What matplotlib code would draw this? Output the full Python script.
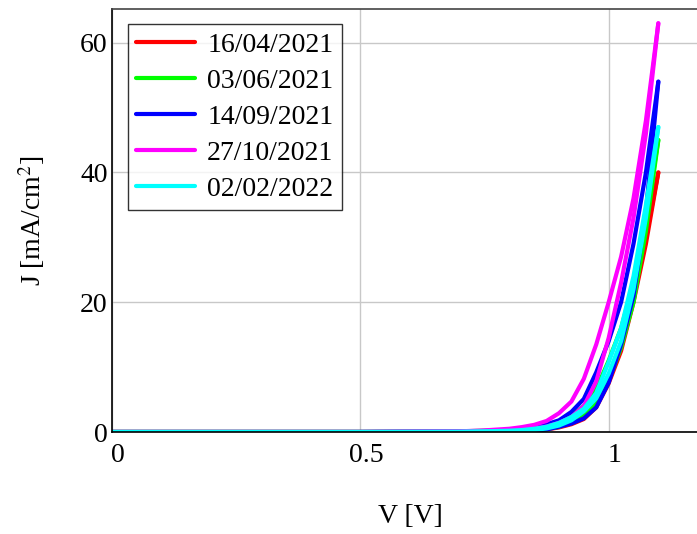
import numpy as np
import matplotlib
matplotlib.use("Agg")
import matplotlib.pyplot as plt
from matplotlib.transforms import ScaledTranslation

plt.rcParams['font.family'] = ['Liberation Serif', 'DejaVu Serif']
plt.rcParams['mathtext.fontset'] = 'stix'

# Voltage points (V)
V = [0, 0.5, 0.7, 0.75, 0.8, 0.825, 0.85, 0.875, 0.9, 0.925, 0.95, 0.975,
     1.0, 1.025, 1.05, 1.075, 1.1]

# Current density (mA/cm2), two sweeps per measurement date
dates = ['16/04/2021', '03/06/2021', '14/09/2021', '27/10/2021', '02/02/2022']
colors = ['#ff0000', '#00ff00', '#0000ff', '#ff00ff', '#00ffff']

J_red_a = [0, 0, 0, 0.03, 0.1, 0.2, 0.3, 0.55, 1.0, 1.6, 2.6, 4.6, 8.5, 13.5, 21, 30, 40]
J_red_b = [0, 0, 0, 0.02, 0.05, 0.1, 0.2, 0.4, 0.7, 1.2, 2.0, 3.8, 7.5, 12.5, 20, 29, 40]
J_green_a = [0, 0, 0.1, 0.2, 0.3, 0.45, 0.6, 0.95, 1.5, 2.5, 4.0, 6.6, 11, 16, 23, 33, 45]
J_green_b = [0, 0, 0, 0.02, 0.05, 0.1, 0.2, 0.45, 0.8, 1.4, 2.5, 4.4, 8, 13, 20, 31, 45]
J_blue_a = [0, 0, 0.08, 0.15, 0.3, 0.5, 0.8, 1.2, 1.8, 3.1, 5.1, 9.2, 14, 20, 29, 40, 54]
J_blue_b = [0, 0, 0, 0.02, 0.05, 0.1, 0.2, 0.4, 0.8, 1.3, 2.1, 3.8, 7.6, 13.5, 21, 34, 54]
J_mag_a = [0, 0, 0.1, 0.25, 0.5, 0.75, 1.1, 1.7, 2.9, 4.7, 8.2, 13.5, 20, 27, 36, 48, 63]
J_mag_b = [0, 0, 0.05, 0.1, 0.2, 0.3, 0.5, 0.85, 1.4, 2.3, 4.0, 7.8, 14.5, 23, 33, 46, 63]
J_cyan_a = [0, 0, 0.05, 0.1, 0.2, 0.3, 0.5, 0.8, 1.4, 2.3, 3.6, 6.0, 10.8, 16, 24, 35, 47]
J_cyan_b = [0, 0, 0, 0.05, 0.1, 0.2, 0.3, 0.55, 1.0, 1.8, 3.2, 5.2, 9, 14, 22, 33, 47]

sweeps = [(J_red_a, J_red_b), (J_green_a, J_green_b), (J_blue_a, J_blue_b),
          (J_mag_a, J_mag_b), (J_cyan_a, J_cyan_b)]

fig = plt.figure(figsize=(6.97, 5.34), dpi=100)
# axes runs past the right edge of the picture, as in the original
ax = fig.add_axes([112/697, 102/534, 596/697, 423/534])

for (ja, jb), c, lab in zip(sweeps, colors, dates):
    ax.plot(V, ja, color=c, lw=3, label=lab, solid_capstyle='round',
            solid_joinstyle='round')
    ax.plot(V, jb, color=c, lw=3, solid_capstyle='round',
            solid_joinstyle='round')

ax.set_xlim(0, 1.2)
ax.set_ylim(0, 65.2)
ax.set_xticks([0, 0.5, 1])
ax.set_xticklabels(['0', '0.5', '1'])
ax.set_yticks([0, 20, 40, 60])
ax.grid(True, color='#c8c8c8', lw=1)
ax.set_axisbelow(True)
ax.tick_params(length=0, labelsize=20)
ax.tick_params(axis='x', pad=8)
ax.tick_params(axis='y', pad=3)

# x tick labels sit a little to the right of their grid lines
shift = ScaledTranslation(6/100, 0, fig.dpi_scale_trans)
for t in ax.get_xticklabels():
    t.set_transform(t.get_transform() + shift)

for s in ['left', 'bottom']:
    ax.spines[s].set_color('black')
    ax.spines[s].set_linewidth(1.2)
ax.spines['top'].set_color('#444444')
ax.spines['top'].set_linewidth(1.2)

ax.set_xlabel('V [V]', fontsize=20, labelpad=26)
ax.set_ylabel('J [mA/cm$^2$]', fontsize=20, labelpad=24)

leg = ax.legend(loc='upper left', bbox_to_anchor=(16/596, 1 - 15/423),
                borderaxespad=0, fontsize=20, frameon=True, fancybox=False,
                edgecolor='black', handlelength=2.1, handletextpad=0.45,
                labelspacing=0.38, borderpad=0.3)
leg.get_frame().set_linewidth(1.0)

fig.savefig('out.png', dpi=100)
